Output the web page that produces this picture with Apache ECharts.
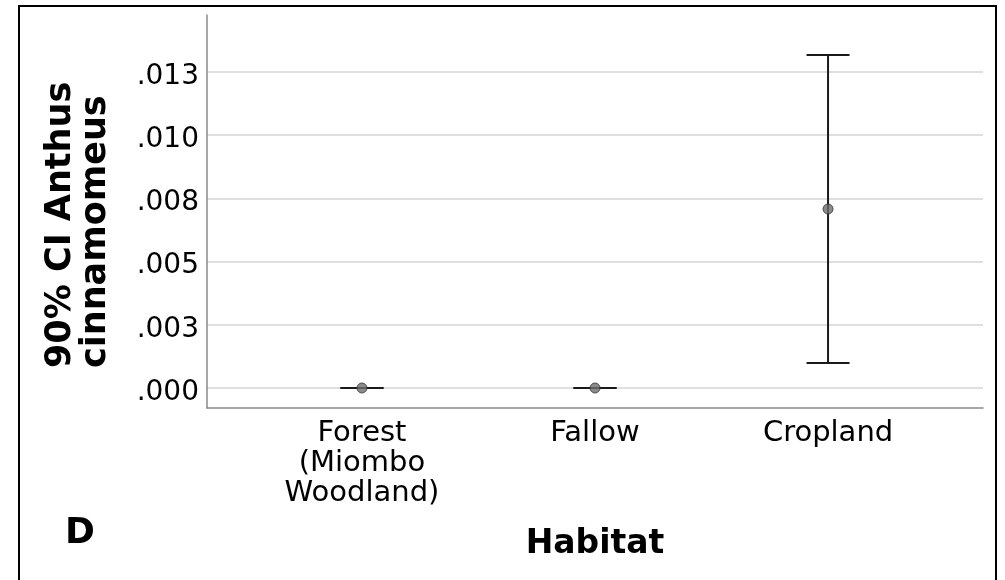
<!DOCTYPE html>
<html>
<head>
<meta charset="utf-8">
<script src="https://cdn.jsdelivr.net/npm/echarts@6/dist/echarts.min.js"></script>
<style>
  html, body { margin: 0; padding: 0; background: #fff; }
  #chart { width: 1005px; height: 580px; }
</style>
</head>
<body>
<div id="chart"></div>
<script>
// Habitat groups and their 90% confidence intervals of the mean
const categories = ['Forest\n(Miombo\nWoodland)', 'Fallow', 'Cropland'];
const means = [0.0, 0.0, 0.00708];
const lowerCI = [0.0, 0.0, 0.00099];
const upperCI = [0.0, 0.0, 0.01317];

// Y axis ticks and their printed (3-decimal) labels
const yTicks = [0, 0.0025, 0.005, 0.0075, 0.01, 0.0125];
const yTickLabels = ['.000', '.003', '.005', '.008', '.010', '.013'];

const FONT = 'DejaVu Sans';

const chart = echarts.init(document.getElementById('chart'), null, { renderer: 'canvas' });

const catIdx = categories.map((_, i) => i);

chart.setOption({
  animation: false,
  backgroundColor: '#ffffff',
  grid: { left: 207, right: 22, top: 15, bottom: 172 },
  xAxis: {
    type: 'value',
    min: -0.665,
    max: 2.665,
    name: 'Habitat',
    nameLocation: 'middle',
    nameGap: 120,
    nameTextStyle: { fontFamily: FONT, fontSize: 33, fontWeight: 'bold', color: '#000' },
    axisLine: { show: true, onZero: false, lineStyle: { color: '#8a8a8a', width: 1.5 } },
    axisTick: { show: false, customValues: catIdx },
    splitLine: { show: false },
    axisLabel: {
      customValues: catIdx,
      formatter: v => categories[Math.round(v)] || '',
      fontFamily: FONT,
      fontSize: 29,
      lineHeight: 30,
      color: '#000',
      margin: 10
    }
  },
  yAxis: {
    type: 'value',
    min: -0.000791,
    max: 0.014755,
    axisLine: { show: true, onZero: false, lineStyle: { color: '#8a8a8a', width: 1.5 } },
    axisTick: { show: false, customValues: yTicks },
    splitLine: { show: true, lineStyle: { color: '#d4d4d4', width: 1.5 } },
    axisLabel: {
      customValues: yTicks,
      formatter: v => {
        const i = yTicks.findIndex(t => Math.abs(t - v) < 1e-9);
        return i >= 0 ? '{t|' + yTickLabels[i] + '}' : '';
      },
      color: '#000',
      margin: 8,
      rich: {
        t: { fontFamily: FONT, fontSize: 28, color: '#000', padding: [9, 0, 0, 0] }
      }
    }
  },
  graphic: [
    {
      type: 'rect',
      shape: { x: 19, y: 6, width: 977, height: 600 },
      style: { fill: 'none', stroke: '#000', lineWidth: 2 },
      z: 100
    },
    {
      type: 'text',
      x: 78,
      y: 368,
      rotation: Math.PI / 2,
      style: {
        text: '90% CI Anthus\ncinnamomeus',
        font: 'bold 35px "DejaVu Sans"',
        lineHeight: 35,
        textAlign: 'left',
        textVerticalAlign: 'middle',
        fill: '#000'
      }
    },
    {
      type: 'text',
      x: 65,
      y: 534,
      style: {
        text: 'D',
        font: 'bold 36px "DejaVu Sans"',
        textAlign: 'left',
        textVerticalAlign: 'middle',
        fill: '#000'
      }
    }
  ],
  series: [
    {
      type: 'custom',
      name: '90% CI',
      data: catIdx.map(i => [i, lowerCI[i], upperCI[i]]),
      encode: { x: 0, y: [1, 2] },
      renderItem: (params, api) => {
        const x = api.value(0);
        const lo = api.coord([x, api.value(1)]);
        const hi = api.coord([x, api.value(2)]);
        const half = 21.5;
        const style = { stroke: '#1a1a1a', lineWidth: 2 };
        return {
          type: 'group',
          children: [
            { type: 'line', shape: { x1: lo[0], y1: lo[1], x2: hi[0], y2: hi[1] }, style },
            { type: 'line', shape: { x1: hi[0] - half, y1: hi[1], x2: hi[0] + half, y2: hi[1] }, style },
            { type: 'line', shape: { x1: lo[0] - half, y1: lo[1], x2: lo[0] + half, y2: lo[1] }, style }
          ]
        };
      },
      z: 3
    },
    {
      type: 'scatter',
      name: 'Mean',
      data: catIdx.map(i => [i, means[i]]),
      symbol: 'circle',
      symbolSize: 10,
      itemStyle: { color: '#6e6e6e', borderColor: '#333', borderWidth: 1 },
      z: 4
    }
  ]
});
</script>
</body>
</html>
